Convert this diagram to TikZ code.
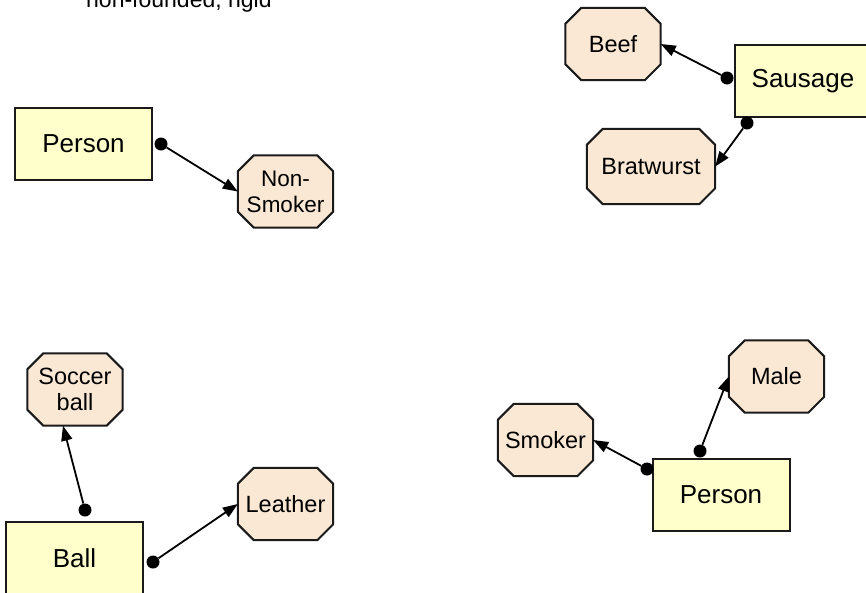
\documentclass[tikz,border=0pt]{standalone}
\usepackage{fontspec}
\setmainfont{Liberation Sans}
\usetikzlibrary{arrows.meta,backgrounds}
\definecolor{boxfill}{HTML}{FFFFCC}
\definecolor{octfill}{HTML}{FAE8D4}
\definecolor{edge}{HTML}{1A1A1A}
\tikzset{
  x=1pt, y=-1pt,
  kind/.style={draw=edge, line width=2pt, fill=boxfill, rectangle,
    minimum width=137pt, minimum height=72pt, inner sep=0pt,
    font=\fontsize{26}{30}\selectfont},
  trait/.style={rectangle, minimum width=95pt, minimum height=72pt,
    inner sep=0pt, align=center, font=\fontsize{23.5}{26}\selectfont},
  octline/.style={draw=edge, line width=2pt, fill=octfill, line join=miter},
  dotnode/.style={circle, fill=black, minimum size=13pt, inner sep=0pt},
  link/.style={line width=1.8pt, draw=black, -{Triangle[length=15pt,width=11pt]}},
}
\newcommand\octof[1]{%
  \draw[octline] ([xshift=16pt]#1.north west) -- ([xshift=-16pt]#1.north east)
    -- ([yshift=-16pt]#1.north east) -- ([yshift=16pt]#1.south east)
    -- ([xshift=-16pt]#1.south east) -- ([xshift=16pt]#1.south west)
    -- ([yshift=16pt]#1.south west) -- ([yshift=-16pt]#1.north west) -- cycle;}
\begin{document}
\begin{tikzpicture}
\useasboundingbox (0,0) rectangle (866,592);
\clip (0,0) rectangle (866,592);
% cut-off title
\node[anchor=base west, inner sep=0pt, font=\fontsize{23}{26}\selectfont] (title) at (86,7) {non-founded, rigid};

% top-left
\node[kind] (p1) at (83.5,144) {Person};
\node[trait, font=\fontsize{22.5}{26}\selectfont] (ns) at (285.5,191.5) {Non-\\Smoker};
\node[dotnode] (d1) at (161,144) {};
\draw[link] (d1) -- (ns.west);

% top-right
\node[kind] (saus) at (803,81) {Sausage};
\node[trait] (beef) at (613,44) {Beef};
\node[trait, minimum width=128pt, minimum height=75pt] (brat) at (651,166.5) {Bratwurst};
\node[dotnode] (d2) at (727,78) {};
\node[dotnode] (d3) at (747,123) {};
\draw[link] (d2) -- (beef.east);
\draw[link] (d3) -- (brat.east);

% bottom-left
\node[kind] (ball) at (74.5,558) {Ball};
\node[trait] (soc) at (75,389.5) {Soccer\\ball};
\node[trait] (leat) at (285.5,504) {Leather};
\node[dotnode] (d4) at (85,510) {};
\node[dotnode] (d5) at (153,562) {};
\draw[link] (d4) -- ([xshift=-12pt]soc.south);
\draw[link] (d5) -- (leat.west);

% bottom-right
\node[kind] (p2) at (721,494.5) {Person};
\node[trait] (male) at (776.5,376.5) {Male};
\node[trait] (smok) at (545.5,440) {Smoker};
\node[dotnode] (d6) at (647,469) {};
\node[dotnode] (d7) at (700,451) {};
\draw[link] (d6) -- (smok.east);
\draw[link] (d7) -- (male.west);

\begin{scope}[on background layer]
  \octof{ns}\octof{beef}\octof{brat}\octof{soc}\octof{leat}\octof{male}\octof{smok}
\end{scope}
\end{tikzpicture}
\end{document}
